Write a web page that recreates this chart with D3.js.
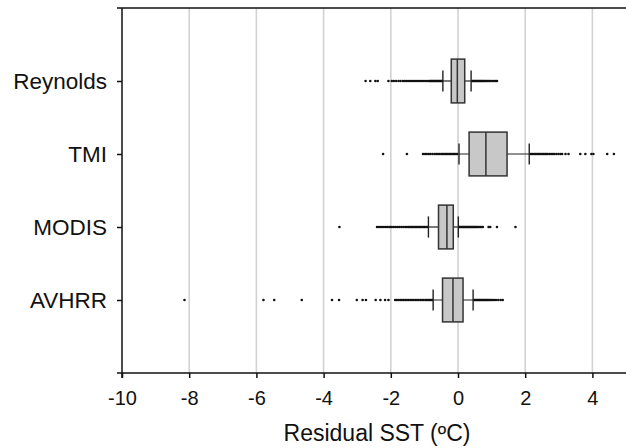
<html>
<head>
    <script src="https://d3js.org/d3.v7.min.js"></script>
    <style>
        body { margin: 0; background: #fff; }
        text { font-family: "Liberation Sans", Arial, Helvetica, sans-serif; fill: #111; }
    </style>
</head>

<body>
    <svg id="chart"></svg>

    <script>
        var Width = 626, Height = 448;
        var margin = { top: 8, left: 122, bottom: 75 };

        // categories, top to bottom
        var names = ["Reynolds", "TMI", "MODIS", "AVHRR"];
        var labels = ["Reynolds", "TMI", "MODIS", "AVHRR"];

        // box stats per series (degC): lower whisker, q1, median, q3, upper whisker
        var whiskerLo = [-0.45, 0.03, -0.88, -0.74];
        var q1        = [-0.20, 0.33, -0.58, -0.46];
        var median    = [-0.02, 0.83, -0.33, -0.15];
        var q3        = [ 0.20, 1.46, -0.14,  0.15];
        var whiskerHi = [ 0.39, 2.12,  0.01,  0.45];

        // outliers
        var outReynolds = [-2.75, -2.61, -2.46, -2.39, -2.07, -1.97, -1.91, -1.84, -1.77, -1.71, -1.64,
            -1.58, -1.52, -1.46, -1.40, -1.34, -1.28, -1.22, -1.16, -1.10, -1.04, -0.98, -0.92, -0.86,
            -0.83, -0.80, -0.77, -0.74, -0.71, -0.68, -0.65, -0.62, -0.59, -0.56, -0.53, -0.50, -0.48,
            0.42, 0.45, 0.48, 0.51, 0.54, 0.57, 0.60, 0.63, 0.66, 0.69, 0.72, 0.75, 0.78, 0.81, 0.85,
            0.89, 0.93, 0.97, 1.02, 1.07, 1.12, 1.16];
        var outTMI = [-2.23, -1.52, -1.04, -0.98, -0.93, -0.87, -0.82, -0.76, -0.70, -0.65, -0.60,
            -0.55, -0.50, -0.46, -0.42, -0.38, -0.34, -0.30, -0.26, -0.22, -0.18, -0.14, -0.10, -0.06, -0.02,
            2.15, 2.19, 2.23, 2.27, 2.31, 2.35, 2.39, 2.43, 2.47, 2.51, 2.55, 2.59, 2.63, 2.67, 2.72,
            2.77, 2.82, 2.87, 2.93, 2.99, 3.05, 3.10, 3.20, 3.29, 3.64, 3.79, 3.97, 4.03, 4.44, 4.64];
        var outMODIS = [-3.53, -2.41, -2.35, -2.29, -2.23, -2.17, -2.11, -2.05, -1.99, -1.93, -1.87,
            -1.81, -1.75, -1.69, -1.63, -1.57, -1.52, -1.47, -1.43, -1.39, -1.35, -1.31, -1.27, -1.23,
            -1.19, -1.15, -1.11, -1.07, -1.03, -0.99, -0.95, -0.91,
            0.04, 0.07, 0.10, 0.13, 0.16, 0.19, 0.22, 0.25, 0.28, 0.31, 0.34, 0.37, 0.40, 0.43, 0.46,
            0.49, 0.52, 0.55, 0.58, 0.62, 0.66, 0.70, 0.74, 0.91, 0.96, 1.16, 1.71];
        var outAVHRR = [-8.14, -5.79, -5.47, -4.65, -3.75, -3.54, -3.01, -2.84, -2.74, -2.45, -2.31,
            -2.17, -2.07, -1.87, -1.82, -1.77, -1.72, -1.67, -1.62, -1.57, -1.52, -1.47, -1.42, -1.37,
            -1.32, -1.27, -1.22, -1.17, -1.12, -1.07, -1.02, -0.97, -0.93, -0.89, -0.85, -0.81, -0.77,
            0.48, 0.51, 0.54, 0.57, 0.60, 0.63, 0.66, 0.69, 0.72, 0.75, 0.78, 0.81, 0.84, 0.87, 0.90,
            0.94, 0.98, 1.02, 1.07, 1.13, 1.20, 1.27, 1.33];
        var outliers = [outReynolds, outTMI, outMODIS, outAVHRR];

        var xTicks = [-10, -8, -6, -4, -2, 0, 2, 4];

        var x = d3.scaleLinear().domain([-10, 5]).range([margin.left, Width]);
        var y = d3.scaleLinear().domain([0, names.length + 1]).range([margin.top, Height - margin.bottom]);
        var yPos = function(i) { return y(i + 1); };
        var boxHalf = y(0.3) - y(0);
        var capHalf = y(0.145) - y(0);

        var svg = d3.select("#chart")
            .attr("width", Width)
            .attr("height", Height);

        // grid lines
        svg.selectAll(".grid")
            .data(xTicks.slice(1))
            .enter()
            .append("line").classed("grid", true)
                .attr("x1", function(d) { return x(d); }).attr("x2", function(d) { return x(d); })
                .attr("y1", y(0)).attr("y2", y(names.length + 1))
                .attr("stroke", "#d2d2d2").attr("stroke-width", 1.6);

        // top frame line
        svg.append("line")
            .attr("x1", margin.left - 5).attr("x2", Width)
            .attr("y1", y(0)).attr("y2", y(0))
            .attr("stroke", "#111").attr("stroke-width", 1.5);

        // x axis
        var xAxis = svg.append("g")
            .attr("transform", "translate(0," + y(names.length + 1) + ")")
            .call(d3.axisBottom(x).tickValues(xTicks).tickSize(5).tickSizeOuter(0).tickPadding(13));
        xAxis.select(".domain").attr("stroke", "#111").attr("stroke-width", 1.5)
            .attr("d", "M" + (margin.left - 5) + ",0H" + Width);
        xAxis.selectAll(".tick line").attr("stroke", "#111").attr("stroke-width", 1.5);
        xAxis.selectAll(".tick text").style("font-size", "20px").attr("fill", "#111")
            .text(function(d) { return d; });

        // y axis
        var yAxis = svg.append("g")
            .attr("transform", "translate(" + margin.left + ",0)")
            .call(d3.axisLeft(y).tickValues(d3.range(1, names.length + 1)).tickSize(5).tickSizeOuter(0).tickPadding(10)
                .tickFormat(function(d) { return labels[d - 1]; }));
        yAxis.select(".domain").attr("stroke", "#111").attr("stroke-width", 1.5)
            .attr("d", "M0," + y(0) + "V" + (y(names.length + 1) + 5));
        yAxis.selectAll(".tick line").attr("stroke", "#111").attr("stroke-width", 1.5);
        yAxis.selectAll(".tick text").style("font-size", "22.5px").attr("fill", "#111");

        // x axis title
        svg.append("text")
            .attr("x", (x(-10) + x(5)) / 2 + 3).attr("y", 441)
            .attr("text-anchor", "middle")
            .style("font-size", "23px")
            .text("Residual SST (\u00baC)");

        var groups = svg.selectAll(".series")
            .data(names)
            .enter()
            .append("g").classed("series", true);

        // outliers
        groups.each(function(d, i) {
            d3.select(this).selectAll(".out")
                .data(outliers[i])
                .enter()
                .append("circle").classed("out", true)
                    .attr("cx", function(v) { return x(v); })
                    .attr("cy", yPos(i))
                    .attr("r", 1.3)
                    .attr("fill", "#111");
        });

        // whisker lines
        groups.append("line")
            .attr("x1", function(d, i) { return x(whiskerLo[i]); })
            .attr("x2", function(d, i) { return x(whiskerHi[i]); })
            .attr("y1", function(d, i) { return yPos(i); })
            .attr("y2", function(d, i) { return yPos(i); })
            .attr("stroke", "#222").attr("stroke-width", 1.2);

        // whisker caps
        groups.selectAll(".cap")
            .data(function(d, i) { return [{ v: whiskerLo[i], i: i }, { v: whiskerHi[i], i: i }]; })
            .enter()
            .append("line").classed("cap", true)
                .attr("x1", function(c) { return x(c.v); }).attr("x2", function(c) { return x(c.v); })
                .attr("y1", function(c) { return yPos(c.i) - capHalf; })
                .attr("y2", function(c) { return yPos(c.i) + capHalf; })
                .attr("stroke", "#222").attr("stroke-width", 1.4);

        // boxes
        groups.append("rect")
            .attr("x", function(d, i) { return x(q1[i]); })
            .attr("width", function(d, i) { return x(q3[i]) - x(q1[i]); })
            .attr("y", function(d, i) { return yPos(i) - boxHalf; })
            .attr("height", 2 * boxHalf)
            .attr("fill", "#c8c8c8")
            .attr("stroke", "#333").attr("stroke-width", 1.5);

        // medians
        groups.append("line")
            .attr("x1", function(d, i) { return x(median[i]); })
            .attr("x2", function(d, i) { return x(median[i]); })
            .attr("y1", function(d, i) { return yPos(i) - boxHalf; })
            .attr("y2", function(d, i) { return yPos(i) + boxHalf; })
            .attr("stroke", "#333").attr("stroke-width", 1.5);
    </script>
</body>
</html>
